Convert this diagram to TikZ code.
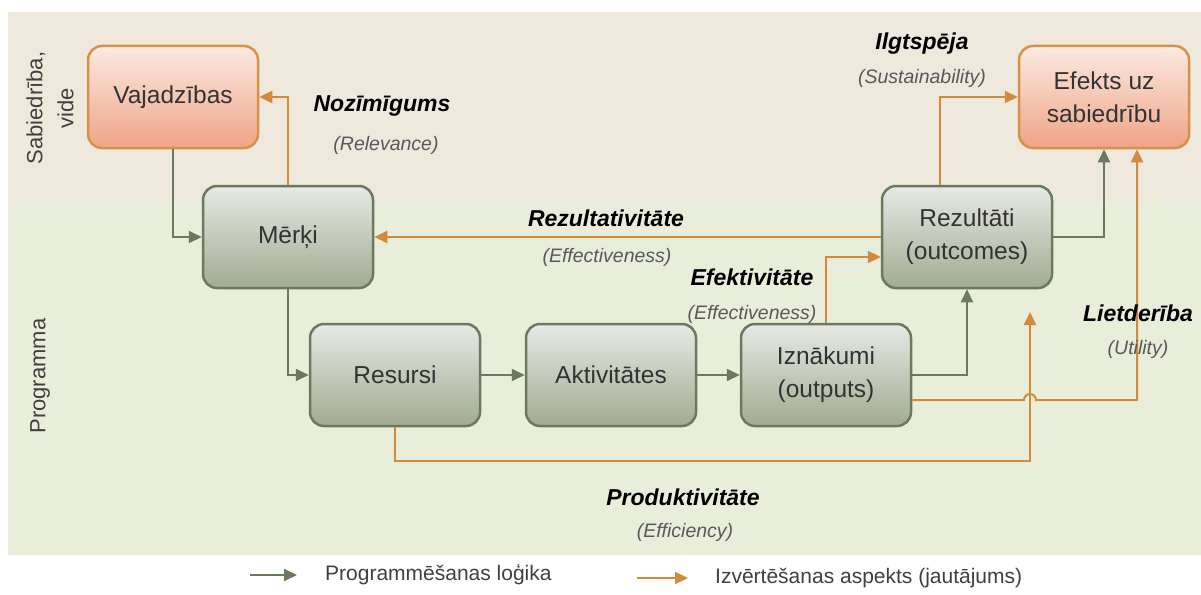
\documentclass[tikz,border=0pt]{standalone}
\usepackage{fontspec}
\setmainfont{Liberation Sans}
\usetikzlibrary{calc, positioning, arrows.meta}
\definecolor{logicgreen}{HTML}{6B7A5C}
\definecolor{aspectorange}{HTML}{D38A3A}
\definecolor{bandtop}{HTML}{EEE8DD}
\definecolor{bandlow}{HTML}{E9EEDA}
\definecolor{boxtop}{HTML}{E7E9E5}
\definecolor{boxlow}{HTML}{A1AB90}
\definecolor{hotedge}{HTML}{D8914A}
\definecolor{hottop}{HTML}{FBEAE2}
\definecolor{hotlow}{HTML}{EFA486}
\tikzset{
  progbox/.style={draw=logicgreen, line width=2.5pt, rounded corners=14pt,
    top color=boxtop, bottom color=boxlow, minimum width=170pt, minimum height=102pt,
    align=center, text=black!80, font=\fontsize{24.5}{33}\selectfont},
  socbox/.style={progbox, draw=hotedge, top color=hottop, bottom color=hotlow},
  logic/.style={draw=logicgreen, line width=2pt, -{Triangle[length=13pt,width=12pt]}},
  aspect/.style={draw=aspectorange, line width=2pt, -{Triangle[length=13pt,width=12pt]}},
  aspname/.style={font=\fontsize{23}{27}\selectfont\bfseries\itshape, inner sep=0pt},
  asptrans/.style={font=\fontsize{19.5}{23}\selectfont\itshape, text=black!65, inner sep=0pt},
  sidetext/.style={font=\fontsize{22}{31}\selectfont, text=black!75, align=center, rotate=90, inner sep=0pt},
  legendtext/.style={font=\fontsize{21}{25}\selectfont, text=black!75, anchor=west, inner sep=0pt},
}

\begin{document}
\begin{tikzpicture}[x=1pt, y=-1pt]
  \useasboundingbox (0,0) rectangle (1201,594);
  \fill[white] (0,0) rectangle (1201,594);
  \fill[bandtop] (8,12) rectangle (1201,203);
  \fill[bandlow] (8,203) rectangle (1201,555);

  \node[sidetext] (sabiedriba) at (50,108) {Sabiedrība,\\vide};
  \node[sidetext] (programma) at (40,376) {Programma};

  % logic chain
  \node[socbox] (vajadzibas) at (173,97) {Vajadzības};
  \node[progbox] (merki) at (288,237) {Mērķi};
  \node[progbox] (resursi) at (395,375) {Resursi};
  \node[progbox] (aktivitates) at (611,375) {Aktivitātes};
  \node[progbox] (iznakumi) at (826,375) {Iznākumi\\(outputs)};
  \node[progbox] (rezultati) at (967,237) {Rezultāti\\(outcomes)};
  \node[socbox] (efekts) at (1104,97) {Efekts uz\\sabiedrību};

  \draw[logic] (vajadzibas.south) |- (merki.west);
  \draw[logic] (merki.south) |- (resursi.west);
  \draw[logic] (resursi.east) -- (aktivitates.west);
  \draw[logic] (aktivitates.east) -- (iznakumi.west);
  \draw[logic] (iznakumi.east) -| (rezultati.south);
  \draw[logic] (rezultati.east) -| (efekts.south);

  % evaluation aspects
  \draw[aspect] (merki.north) |- (vajadzibas.east);
  \draw[aspect] (rezultati.west) -- (merki.east);
  \draw[aspect] (iznakumi.north) |- ($(rezultati.west)+(0,20)$);
  \draw[aspect] ($(rezultati.north)+(-27,0)$) |- (efekts.west);
  \coordinate (prodturn) at (1030,461);
  \coordinate (prodend) at (1030,312);
  \draw[aspect] (resursi.south) |- (prodturn) -- (prodend);
  \coordinate (lietturn) at (1137,400);
  \draw[aspect] ($(iznakumi.east)+(0,25)$) -- ($(prodturn |- lietturn)+(-6,0)$)
    arc[start angle=180, end angle=360, radius=6] -- (lietturn) -- (lietturn |- efekts.south);

  \node[aspname] (nozimigums) at (382,106) {Nozīmīgums};
  \node[asptrans] (relevance) at (386,145) {(Relevance)};
  \node[aspname] (rezultativitate) at (606,218) {Rezultativitāte};
  \node[asptrans] (effectiveness) at (607,257) {(Effectiveness)};
  \node[aspname] (efektivitate) at (752,277) {Efektivitāte};
  \node[asptrans] (effectiveness2) at (752,314) {(Effectiveness)};
  \node[aspname] (ilgtspeja) at (922,44) {Ilgtspēja};
  \node[asptrans] (sustainability) at (922,78) {(Sustainability)};
  \node[aspname] (lietderiba) at (1138,313) {Lietderība};
  \node[asptrans] (utility) at (1138,349) {(Utility)};
  \node[aspname] (produktivitate) at (683,497) {Produktivitāte};
  \node[asptrans] (efficiency) at (685,532) {(Efficiency)};

  % legend
  \coordinate (legstart) at (250,575);
  \coordinate (legend) at (297,575);
  \draw[logic] (legstart) -- (legend);
  \node[legendtext] (logika) at (325,575) {Programmēšanas loģika};
  \coordinate (legstart2) at (637,578);
  \coordinate (legend2) at (688,578);
  \draw[aspect] (legstart2) -- (legend2);
  \node[legendtext] (aspekts) at (715,578) {Izvērtēšanas aspekts (jautājums)};
\end{tikzpicture}
\end{document}
